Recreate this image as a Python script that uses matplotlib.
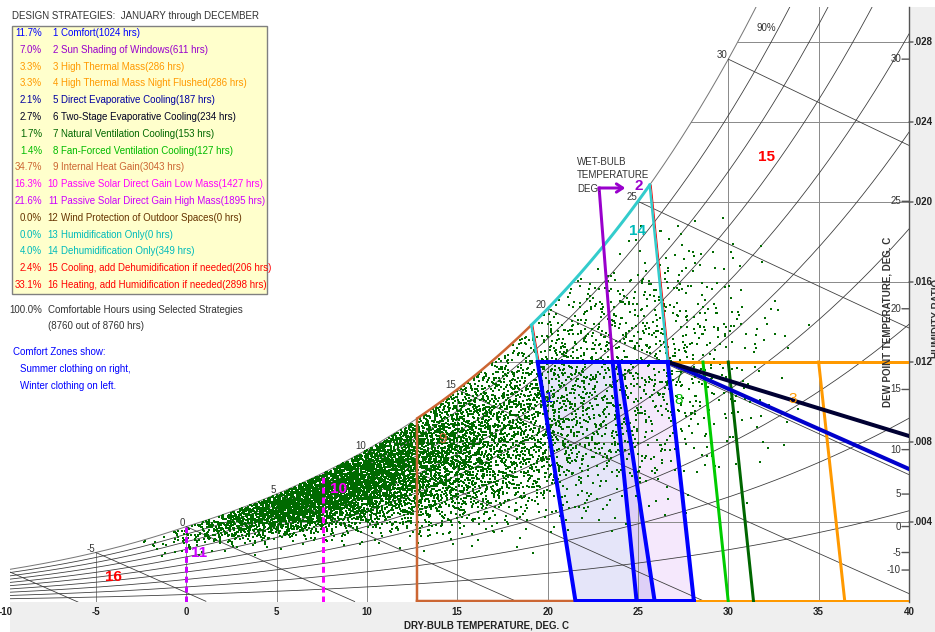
import numpy as np
import matplotlib
matplotlib.use("Agg")
import matplotlib.pyplot as plt
from matplotlib import transforms
from matplotlib.patches import Rectangle, Polygon
from matplotlib.lines import Line2D

plt.rcParams["font.family"] = ["Liberation Sans Narrow", "Liberation Sans", "DejaVu Sans"]

# ---------------- legend content ----------------
strategy_pct = ["11.7%", "7.0%", "3.3%", "3.3%", "2.1%", "2.7%", "1.7%", "1.4%",
                "34.7%", "16.3%", "21.6%", "0.0%", "0.0%", "4.0%", "2.4%", "33.1%"]
strategy_num = list(range(1, 17))
strategy_name = [
    "Comfort(1024 hrs)",
    "Sun Shading of Windows(611 hrs)",
    "High Thermal Mass(286 hrs)",
    "High Thermal Mass Night Flushed(286 hrs)",
    "Direct Evaporative Cooling(187 hrs)",
    "Two-Stage Evaporative Cooling(234 hrs)",
    "Natural Ventilation Cooling(153 hrs)",
    "Fan-Forced Ventilation Cooling(127 hrs)",
    "Internal Heat Gain(3043 hrs)",
    "Passive Solar Direct Gain Low Mass(1427 hrs)",
    "Passive Solar Direct Gain High Mass(1895 hrs)",
    "Wind Protection of Outdoor Spaces(0 hrs)",
    "Humidification Only(0 hrs)",
    "Dehumidification Only(349 hrs)",
    "Cooling, add Dehumidification if needed(206 hrs)",
    "Heating, add Humidification if needed(2898 hrs)",
]
strategy_color = ["#0000FF", "#9900CC", "#FF9900", "#FF9900", "#0000A0", "#000022",
                  "#006600", "#00BB00", "#CC6633", "#FF00FF", "#CC00FF", "#663300",
                  "#00BBBB", "#00BBBB", "#FF0000", "#FF0000"]

# ---------------- chart axes content ----------------
dry_bulb_ticks = [-10, -5, 0, 5, 10, 15, 20, 25, 30, 35, 40]
humidity_ticks = [0.004, 0.008, 0.012, 0.016, 0.020, 0.024, 0.028]
dew_point_ticks = [-10, -5, 0, 5, 10, 15, 20, 25, 30]
wet_bulb_values = [-10, -5, 0, 5, 10, 15, 20, 25, 30]
rh_curves = [0.1, 0.2, 0.3, 0.4, 0.5, 0.6, 0.7, 0.8, 0.9]

# ---------------- design-strategy boundaries (deg C, kg/kg) ----------------
comfort_top_w = 0.012
winter_zone_t = [19.45, 23.93, 25.93, 21.55]    # top-left, top-right, bottom-right, bottom-left
summer_zone_t = [23.6, 26.65, 28.1, 24.93]
sun_shading_t = [23.6, 22.85]
sun_shading_w = [0.012, 0.0207]
sun_arrow_end_t = 24.3
dehumid_t = [19.1, 25.65]                      # along saturation
heat_gain_t = [12.75, 19.1]
thermal_mass_t = [35.0, 36.45]                 # top, bottom
direct_evap_end_w = 0.00665                    # at 40 C
two_stage_end_w = 0.0083
nat_vent_t = [30.0, 31.4]
fan_vent_t = [28.6, 30.0]
solar_low_mass_t = 7.55
solar_high_mass_t = 0.0

# ---------------- hourly climate density (8760 h) ----------------
# rows: dry-bulb bins of 2 C from -2 C; columns: RH bins 20-30 ... 90-100 %
hour_t_edges = list(range(-2, 36, 2))
hour_rh_edges = [0.2, 0.3, 0.4, 0.5, 0.6, 0.7, 0.8, 0.9, 1.0]
hour_counts = [
    [0, 0, 0, 0, 0, 2, 8, 10],
    [0, 0, 0, 0, 5, 20, 40, 35],
    [0, 0, 0, 0, 15, 60, 120, 100],
    [0, 0, 0, 5, 50, 160, 250, 180],
    [0, 0, 0, 25, 120, 260, 350, 255],
    [0, 0, 5, 55, 170, 295, 345, 245],
    [0, 0, 15, 90, 190, 275, 295, 190],
    [0, 10, 55, 125, 190, 235, 220, 140],
    [0, 15, 75, 135, 180, 195, 160, 90],
    [3, 20, 85, 125, 150, 155, 115, 55],
    [5, 25, 80, 110, 120, 110, 80, 35],
    [5, 25, 65, 85, 90, 80, 55, 20],
    [5, 25, 55, 70, 70, 60, 35, 5],
    [5, 25, 50, 60, 55, 40, 10, 0],
    [5, 25, 45, 50, 40, 20, 0, 0],
    [5, 20, 35, 35, 15, 0, 0, 0],
    [3, 15, 20, 10, 0, 0, 0, 0],
    [2, 6, 4, 0, 0, 0, 0, 0],
]

# ---------------- psychrometrics ----------------
P_ATM = 101325.0


def p_ws(t):
    t = np.asarray(t, float)
    water = 610.94 * np.exp(17.625 * t / (t + 243.04))
    ice = 611.21 * np.exp(22.587 * t / (t + 273.86))
    return np.where(t >= 0, water, ice)


def w_sat(t, rh=1.0):
    pv = rh * p_ws(t)
    return 0.622 * pv / (P_ATM - pv)


def w_wetbulb(t, twb):
    ws = w_sat(twb)
    return ((2501 - 2.326 * twb) * ws - 1.006 * (t - twb)) / (2501 + 1.86 * t - 4.186 * twb)


T_FINE = np.linspace(-12, 45, 3000)
W_FINE = w_sat(T_FINE)


def t_at_sat(w):
    return np.interp(w, W_FINE, T_FINE)


def halton(idx, base):
    idx = np.asarray(idx, int).copy()
    out = np.zeros(idx.shape)
    f = 1.0
    while np.any(idx > 0):
        f /= base
        out += f * (idx % base)
        idx //= base
    return out


# ---------------- figure ----------------
FW, FH = 935, 632
fig = plt.figure(figsize=(FW / 100, FH / 100), dpi=100)
fig.patch.set_facecolor("white")


def fx(px):
    return px / FW


def fy(py):
    return 1 - py / FH


fig.patches.append(Rectangle((fx(10), 0), 1 - fx(10), fy(602), transform=fig.transFigure,
                             facecolor="#EFEFEF", edgecolor="none", zorder=-5))
fig.patches.append(Rectangle((fx(910), 0), 1 - fx(910), fy(7), transform=fig.transFigure,
                             facecolor="#EFEFEF", edgecolor="none", zorder=-5))

T_MIN, T_MAX, W_MAX = -9.75, 40.0, 0.02975
ax = fig.add_axes([fx(10), fy(602), fx(909) - fx(10), fy(7) - fy(602)])
ax.set_xlim(T_MIN, T_MAX)
ax.set_ylim(0, W_MAX)
ax.set_axis_off()

PX = 0.72  # points per pixel
GRID = "#8C8C8C"
CURVE = "#3A3A3A"
FS = 7.0

# comfort zone fills
top = comfort_top_w
ax.add_patch(Polygon([(winter_zone_t[0], top), (winter_zone_t[1], top), (winter_zone_t[2], 0),
                      (winter_zone_t[3], 0)], closed=True, facecolor=(0, 0, 0.78, 0.10),
                     edgecolor="none", zorder=1))
ax.add_patch(Polygon([(summer_zone_t[0], top), (summer_zone_t[1], top), (summer_zone_t[2], 0),
                      (summer_zone_t[3], 0)], closed=True, facecolor=(0.6, 0, 0.9, 0.09),
                     edgecolor="none", zorder=1))

# dry-bulb verticals
for t in range(-5, 40, 5):
    ax.plot([t, t], [0, min(float(w_sat(t)), W_MAX)], color=GRID, lw=1 * PX, zorder=2)
# humidity-ratio horizontals
for w in humidity_ticks:
    ax.plot([t_at_sat(w), T_MAX], [w, w], color=GRID, lw=1 * PX, zorder=2)
# saturation curve
ts = np.linspace(T_MIN, 33, 600)
ax.plot(ts, w_sat(ts), color="#777777", lw=1 * PX, zorder=2)
# relative humidity curves
tr = np.linspace(T_MIN, T_MAX, 600)
for rh in rh_curves:
    ax.plot(tr, w_sat(tr, rh), color=CURVE, lw=0.8 * PX, zorder=2)
# wet-bulb lines
for twb in wet_bulb_values:
    tt = np.linspace(twb, T_MAX, 400)
    ww = w_wetbulb(tt, twb)
    keep = ww >= 0
    ax.plot(tt[keep], ww[keep], color=CURVE, lw=0.8 * PX, zorder=2)
    if twb > T_MIN + 1:
        ax.text(twb, float(w_sat(twb)), str(twb), ha="right", va="bottom", fontsize=FS,
                color="#333333", zorder=6,
                transform=transforms.offset_copy(ax.transData, fig=fig, x=-1, y=-1, units="dots"))

# hourly climate points: each cell's hours spread with a tent profile over its neighbours
pts_t, pts_w = [], []
k0 = 1
for i, row in enumerate(hour_counts):
    for j, n in enumerate(row):
        if n == 0:
            continue
        k = np.arange(k0, k0 + n)
        k0 += n
        t_mid = hour_t_edges[i] + 1.0
        rh_lo, rh_hi = hour_rh_edges[j], hour_rh_edges[j + 1]
        t = t_mid + 2.0 * (halton(k, 2) + halton(k, 3) - 1.0)
        rh = 0.5 * (rh_lo + rh_hi) + (rh_hi - rh_lo) * (halton(k, 5) + halton(k, 7) - 1.0)
        rh = np.where(rh > 0.995, 1.99 - rh, rh)
        pts_t.append(t)
        pts_w.append(w_sat(t, rh))
pts_t = np.concatenate(pts_t)
pts_w = np.concatenate(pts_w)
ax.plot(pts_t, pts_w, "s", ms=1.45, mew=0, color="#006A00", zorder=3)

LW = 4 * PX
blue = "#0000FF"
# 9 internal heat gain
c9 = "#CC6633"
th = np.linspace(heat_gain_t[0], heat_gain_t[1], 100)
ax.plot(th, w_sat(th), color=c9, lw=2.5 * PX, zorder=4, solid_capstyle="butt")
ax.plot([heat_gain_t[0], heat_gain_t[0]], [0.00005, float(w_sat(heat_gain_t[0]))], color=c9,
        lw=2.5 * PX, zorder=4)
ax.plot([heat_gain_t[0], winter_zone_t[3]], [0.00005, 0.00005], color=c9, lw=2.5 * PX, zorder=4)

# 3 high thermal mass
c3 = "#FF9900"
ax.plot([summer_zone_t[1], T_MAX], [top, top], color=c3, lw=3 * PX, zorder=4)
ax.plot(thermal_mass_t, [top, 0], color=c3, lw=3 * PX, zorder=4)
ax.plot([summer_zone_t[2], T_MAX], [0.00005, 0.00005], color=c3, lw=3 * PX, zorder=4)

# 7 / 8 ventilation
ax.plot(nat_vent_t, [top, 0], color="#006600", lw=3 * PX, zorder=4)
ax.plot(fan_vent_t, [top, 0], color="#00CC00", lw=3 * PX, zorder=4)

# 5 / 6 evaporative cooling
ax.plot([summer_zone_t[1], T_MAX], [top, direct_evap_end_w], color="#0000CC", lw=LW, zorder=4)
ax.plot([summer_zone_t[1], T_MAX], [top, two_stage_end_w], color="#000033", lw=LW, zorder=4)

# 14 dehumidification with cooling edge
c14 = "#33CCCC"
red_off = transforms.offset_copy(ax.transData, fig=fig, x=1.5, y=0, units="dots")
for ta, tb in [(dehumid_t[0], winter_zone_t[0]), (dehumid_t[1], summer_zone_t[1])]:
    ax.plot([ta, tb], [float(w_sat(ta)), top], color="#FF0000", lw=1 * PX, zorder=4,
            transform=red_off)
    ax.plot([ta, tb], [float(w_sat(ta)), top], color=c14, lw=2.5 * PX, zorder=4)
td = np.linspace(dehumid_t[0], dehumid_t[1], 100)
ax.plot(td, w_sat(td), color=c14, lw=3 * PX, zorder=4)

# 2 sun shading
c2 = "#9900CC"
ax.plot(sun_shading_t, sun_shading_w, color=c2, lw=3 * PX, zorder=4)
ax.annotate("", xy=(sun_arrow_end_t, sun_shading_w[1]), xytext=(sun_shading_t[1], sun_shading_w[1]),
            arrowprops=dict(arrowstyle="->,head_length=0.45,head_width=0.3", lw=3 * PX, color=c2,
                            shrinkA=0, shrinkB=0), zorder=4)

# 10 / 11 passive solar
ax.plot([solar_low_mass_t, solar_low_mass_t], [0, float(w_sat(solar_low_mass_t))], color="#FF00FF",
        lw=3 * PX, ls=(0, (2, 1.3)), zorder=4)
ax.plot([solar_high_mass_t, solar_high_mass_t], [0, float(w_sat(solar_high_mass_t))],
        color="#CC00FF", lw=3 * PX, ls=(0, (2, 1.3)), zorder=4)

# 1 comfort zones
for zt in (winter_zone_t, summer_zone_t):
    ax.plot([zt[0], zt[3]], [top, 0], color=blue, lw=LW, zorder=5)
    ax.plot([zt[1], zt[2]], [top, 0], color=blue, lw=LW, zorder=5)
ax.plot([winter_zone_t[0], summer_zone_t[1]], [top, top], color=blue, lw=LW, zorder=5)
ax.plot([winter_zone_t[3], summer_zone_t[2]], [0.00005, 0.00005], color=blue, lw=LW, zorder=5)

# zone numbers
zone_labels = [
    ("15", 32.13, 0.02225, "#FF0000", "bold"),
    ("16", -4.04, 0.00125, "#FF0000", "bold"),
    ("11", 0.72, 0.00245, "#CC00FF", "bold"),
    ("10", 8.42, 0.00565, "#FF00FF", "bold"),
    ("14", 24.99, 0.01855, "#00BBBB", "bold"),
    ("2", 25.04, 0.0208, "#9900CC", "bold"),
    ("9", 14.18, 0.00815, "#CC6633", "normal"),
    ("1", 20.06, 0.0102, "#0000FF", "normal"),
    ("8", 27.26, 0.0101, "#00BB00", "normal"),
    ("7", 27.26, 0.01125, "#006600", "normal"),
    ("3", 33.57, 0.01015, "#FF9900", "normal"),
]
for s, x, y, c, wgt in zone_labels:
    ax.text(x, y, s, color=c, fontsize=11, fontweight=wgt, ha="center", va="center", zorder=7)

ax.text(32.1, 0.0287, "90%", fontsize=FS, color="#333333", ha="center", va="center", zorder=6)
for i, s in enumerate(["WET-BULB", "TEMPERATURE", "DEG."]):
    fig.text(fx(577), fy(162 + i * 13.5), s, fontsize=FS, color="#333333", ha="left", va="center")

# right axis
ax.add_line(Line2D([1, 1], [0, 1], transform=ax.transAxes, color="#555555", lw=1, clip_on=False))
trans_r = transforms.blended_transform_factory(ax.transAxes, ax.transData)
for w in humidity_ticks:
    ax.annotate("", xy=(1, w), xycoords=trans_r, xytext=(4, 0), textcoords="offset pixels",
                arrowprops=dict(arrowstyle="-", lw=1, color="#555555", shrinkA=0, shrinkB=0),
                annotation_clip=False)
    ax.text(1, w, ("%.3f" % w)[1:], transform=transforms.offset_copy(trans_r, fig=fig, x=4, units="dots"),
            ha="left", va="center", fontsize=FS, fontweight="bold", color="#222222", clip_on=False)
for d in dew_point_ticks:
    w = float(w_sat(d))
    ax.annotate("", xy=(1, w), xycoords=trans_r, xytext=(-7, 0), textcoords="offset pixels",
                arrowprops=dict(arrowstyle="-", lw=1, color="#555555", shrinkA=0, shrinkB=0))
    ax.text(1, w, str(d), transform=transforms.offset_copy(trans_r, fig=fig, x=-8, units="dots"),
            ha="right", va="center", fontsize=FS, color="#333333", zorder=6)

fig.text(fx(887), fy(322), "DEW POINT TEMPERATURE, DEG. C", rotation=90, fontsize=FS,
         fontweight="bold", color="#333333", ha="center", va="center")
fig.text(fx(937), fy(318), "HUMIDITY RATIO", rotation=90, fontsize=FS,
         fontweight="bold", color="#333333", ha="center", va="center")

# bottom axis
trans_b = transforms.blended_transform_factory(ax.transData, ax.transAxes)
for t in dry_bulb_ticks:
    ax.text(t, 0, str(t), transform=transforms.offset_copy(trans_b, fig=fig, y=-10, units="dots"),
            ha="center", va="center", fontsize=FS, fontweight="bold", color="#222222", clip_on=False)
fig.text(fx(486), fy(626), "DRY-BULB TEMPERATURE, DEG. C", fontsize=FS, fontweight="bold",
         color="#222222", ha="center", va="center")

# legend panel
fig.text(fx(12), fy(16), "DESIGN STRATEGIES:  JANUARY through DECEMBER", fontsize=FS,
         color="#333333", ha="left", va="center")
fig.patches.append(Rectangle((fx(12), fy(294)), fx(267) - fx(12), fy(26) - fy(294),
                             transform=fig.transFigure, facecolor="#FFFFCC", edgecolor="#808080",
                             lw=1, zorder=1))
for i in range(16):
    y = fy(33 + i * 16.8)
    c = strategy_color[i]
    fig.text(fx(42), y, strategy_pct[i], fontsize=FS, color=c, ha="right", va="center", zorder=3)
    fig.text(fx(58), y, str(strategy_num[i]), fontsize=FS, color=c, ha="right", va="center", zorder=3)
    fig.text(fx(61), y, strategy_name[i], fontsize=FS, color=c, ha="left", va="center", zorder=3)

fig.text(fx(42), fy(310), "100.0%", fontsize=FS, color="#333333", ha="right", va="center")
fig.text(fx(48), fy(310), "Comfortable Hours using Selected Strategies", fontsize=FS,
         color="#333333", ha="left", va="center")
fig.text(fx(48), fy(326), "(8760 out of 8760 hrs)", fontsize=FS, color="#333333",
         ha="left", va="center")
fig.text(fx(13), fy(352), "Comfort Zones show:", fontsize=FS, color="#0000FF", ha="left", va="center")
fig.text(fx(20), fy(369), "Summer clothing on right,", fontsize=FS, color="#0000FF", ha="left",
         va="center")
fig.text(fx(20), fy(386), "Winter clothing on left.", fontsize=FS, color="#0000FF", ha="left",
         va="center")

fig.savefig("out.png", dpi=100, facecolor="white")
